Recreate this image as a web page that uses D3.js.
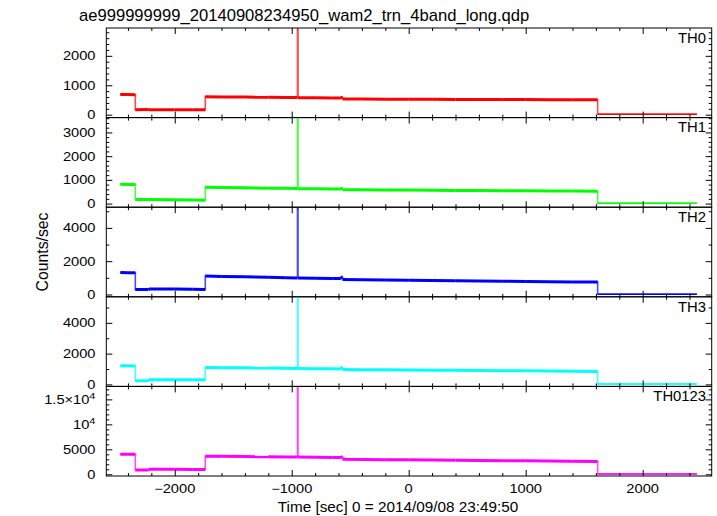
<!DOCTYPE html>
<html><head><meta charset="utf-8">
<script src="https://cdn.jsdelivr.net/npm/d3@7"></script>
<style>body{margin:0;background:#fff}</style>
</head><body><svg id="c" width="717" height="516"></svg>
<script>
const titleText = "ae999999999_20140908234950_wam2_trn_4band_long.qdp";
const xLabel = "Time [sec] 0 = 2014/09/08 23:49:50";
const yLabel = "Counts/sec";
const bandNames = ["TH0", "TH1", "TH2", "TH3", "TH0123"];
const bandColors = ["#ff0000", "#00ff00", "#0000ff", "#00ffff", "#ff00ff"];

const times = [-2465, -2400, -2337, -2337, -2225, -2220, -2000, -1850, -1739, -1739,
  -1600, -1400, -1200, -1050, -951, -951, -946, -946, -800, -650,
  -580, -580, -565, -565, -400, -200, 0, 200, 400, 600,
  800, 1000, 1200, 1400, 1615, 1615, 1800, 2000, 2200, 2463];

const th0 = [690, 685, 680, 170, 172, 168, 170, 166, 165, 610,
  605, 598, 592, 586, 582, 2900, 2900, 575, 572, 570,
  568, 585, 585, 535, 532, 528, 524, 521, 518, 516,
  514, 512, 510, 508, 506, 15, 14, 14, 13, 13];
const th1 = [820, 810, 800, 175, 172, 168, 165, 150, 145, 690,
  680, 665, 652, 642, 636, 3650, 3650, 628, 622, 617,
  613, 635, 635, 585, 580, 574, 568, 562, 556, 550,
  545, 540, 534, 528, 522, 15, 14, 14, 13, 13];
const th2 = [1320, 1310, 1300, 300, 305, 330, 330, 315, 305, 1110,
  1085, 1060, 1030, 1005, 995, 5150, 5150, 985, 975, 968,
  962, 1030, 1030, 900, 890, 875, 860, 845, 830, 815,
  800, 785, 770, 758, 745, 18, 17, 16, 15, 15];
const th3 = [1220, 1210, 1200, 230, 232, 310, 310, 305, 300, 1100,
  1090, 1075, 1060, 1045, 1035, 5900, 5900, 1030, 1020, 1012,
  1005, 1090, 1090, 965, 955, 945, 935, 925, 915, 905,
  895, 885, 872, 858, 845, 28, 27, 26, 25, 25];
const th0123 = [4030, 4010, 3990, 870, 870, 1000, 1000, 985, 970, 3620,
  3590, 3550, 3520, 3480, 3450, 17800, 17800, 3440, 3410, 3380,
  3360, 3480, 3480, 3000, 2970, 2930, 2890, 2850, 2810, 2770,
  2730, 2690, 2640, 2590, 2545, 75, 72, 70, 68, 68];
const bandValues = [th0, th1, th2, th3, th0123];

const xDomain = [-2585, 2590];
const xMajorTicks = [-2000, -1000, 0, 1000, 2000];
const xMinorStep = 200;
const yDomains = [[-99, 2945], [-152, 3625], [-138, 5243], [-130, 5695], [-340, 17600]];
const yMajorTicks = [[0, 1000, 2000], [0, 1000, 2000, 3000], [0, 2000, 4000], [0, 2000, 4000], [0, 5000, 10000, 15000]];
const yMinorSteps = [200, 200, 1000, 1000, 1000];

const svg = d3.select("#c");
const L = 106.3, R = 711.7, T0 = 28, PH = 89.6;
const x = d3.scaleLinear().domain(xDomain).range([L, R]);
const font = "'Liberation Sans', Arial, sans-serif";

function stretch(sel, f) {
  sel.each(function () {
    const len = this.getComputedTextLength();
    this.setAttribute("textLength", len * f);
    this.setAttribute("lengthAdjust", "spacingAndGlyphs");
  });
}
function rangeTicks(d, step) {
  const out = [];
  for (let v = Math.ceil(d[0] / step) * step; v <= d[1]; v += step) out.push(v);
  return out;
}
function fmtY(v) {
  if (v === 10000) return ["10", "4"];
  if (v === 15000) return ["1.5\u00d710", "4"];
  return [String(v)];
}

const xMinor = rangeTicks(xDomain, xMinorStep).filter(v => !xMajorTicks.includes(v));

bandNames.forEach((name, i) => {
  const top = T0 + i * PH, bot = top + PH;
  const y = d3.scaleLinear().domain(yDomains[i]).range([bot, top]);
  const g = svg.append("g");
  const cid = "clip" + i;
  svg.append("clipPath").attr("id", cid).append("rect")
    .attr("x", L).attr("y", top).attr("width", R - L).attr("height", PH);

  const pts = times.map((t, k) => [t, bandValues[i][k]]);
  const line = d3.line().x(d => x(d[0])).y(d => y(d[1]));
  const dg = g.append("g").attr("clip-path", `url(#${cid})`);
  dg.append("path").attr("d", line(pts)).attr("fill", "none")
    .attr("stroke", bandColors[i]).attr("stroke-width", 1.6).attr("stroke-opacity", 0.7);
  const segs = [];
  for (let k = 0; k < pts.length - 1; k++) {
    if (pts[k + 1][0] !== pts[k][0]) segs.push([pts[k], pts[k + 1]]);
  }
  const yMaxAbs = yDomains[i][1];
  dg.selectAll("path.seg").data(segs).join("path").attr("class", "seg")
    .attr("d", d => line(d)).attr("fill", "none")
    .attr("stroke", bandColors[i])
    .attr("stroke-width", d => (d[0][1] < yMaxAbs * 0.03 ? 1.6 : 3))
    .attr("stroke-linecap", "butt");

  const tickStyle = s => s.call(a => a.select(".domain").remove())
    .call(a => a.selectAll("line").attr("stroke", "#000").attr("stroke-width", 1));
  g.append("g").attr("transform", `translate(0,${bot})`)
    .call(d3.axisTop(x).tickValues(xMajorTicks).tickSize(6).tickSizeOuter(0).tickFormat("")).call(tickStyle);
  g.append("g").attr("transform", `translate(0,${bot})`)
    .call(d3.axisTop(x).tickValues(xMinor).tickSize(3).tickSizeOuter(0).tickFormat("")).call(tickStyle);
  g.append("g").attr("transform", `translate(0,${top})`)
    .call(d3.axisBottom(x).tickValues(xMajorTicks).tickSize(6).tickSizeOuter(0).tickFormat("")).call(tickStyle);
  g.append("g").attr("transform", `translate(0,${top})`)
    .call(d3.axisBottom(x).tickValues(xMinor).tickSize(3).tickSizeOuter(0).tickFormat("")).call(tickStyle);

  const yMinor = rangeTicks(yDomains[i], yMinorSteps[i]).filter(v => !yMajorTicks[i].includes(v));
  g.append("g").attr("transform", `translate(${L},0)`)
    .call(d3.axisRight(y).tickValues(yMajorTicks[i]).tickSize(6).tickSizeOuter(0).tickFormat("")).call(tickStyle);
  g.append("g").attr("transform", `translate(${L},0)`)
    .call(d3.axisRight(y).tickValues(yMinor).tickSize(3).tickSizeOuter(0).tickFormat("")).call(tickStyle);
  g.append("g").attr("transform", `translate(${R},0)`)
    .call(d3.axisLeft(y).tickValues(yMajorTicks[i]).tickSize(6).tickSizeOuter(0).tickFormat("")).call(tickStyle);
  g.append("g").attr("transform", `translate(${R},0)`)
    .call(d3.axisLeft(y).tickValues(yMinor).tickSize(3).tickSizeOuter(0).tickFormat("")).call(tickStyle);

  g.append("rect").attr("x", L).attr("y", top).attr("width", R - L).attr("height", PH)
    .attr("fill", "none").attr("stroke", "#000").attr("stroke-width", 1);

  yMajorTicks[i].forEach(v => {
    const parts = fmtY(v);
    const t = g.append("text").attr("x", 95.5).attr("y", y(v) + 4.4)
      .attr("text-anchor", "end").attr("font-family", font).attr("font-size", 12).attr("fill", "#000");
    t.append("tspan").text(parts[0]);
    if (parts[1]) t.append("tspan").attr("dy", -4.5).attr("font-size", 9).text(parts[1]);
    stretch(t, 1.22);
  });

  g.append("text").attr("x", 706).attr("y", top + 14.7).attr("text-anchor", "end")
    .attr("font-family", font).attr("font-size", 14.8).attr("fill", "#000").text(name);

  if (i === bandNames.length - 1) {
    xMajorTicks.forEach(v => {
      const t = g.append("text").attr("x", x(v)).attr("y", 493).attr("text-anchor", "middle")
        .attr("font-family", font).attr("font-size", 12).attr("fill", "#000")
        .text(v < 0 ? "\u2212" + Math.abs(v) : String(v));
      stretch(t, 1.22);
    });
  }
});

svg.append("text").attr("x", 79).attr("y", 20.5).attr("font-family", font)
  .attr("font-size", 16.6).attr("fill", "#000").text(titleText);
svg.append("text").attr("x", 398).attr("y", 511.5).attr("text-anchor", "middle")
  .attr("font-family", font).attr("font-size", 15.3).attr("fill", "#000").text(xLabel);
svg.append("text").attr("transform", "translate(47.5,252) rotate(-90)").attr("text-anchor", "middle")
  .attr("font-family", font).attr("font-size", 15.8).attr("fill", "#000").text(yLabel);
</script>
</body></html>
